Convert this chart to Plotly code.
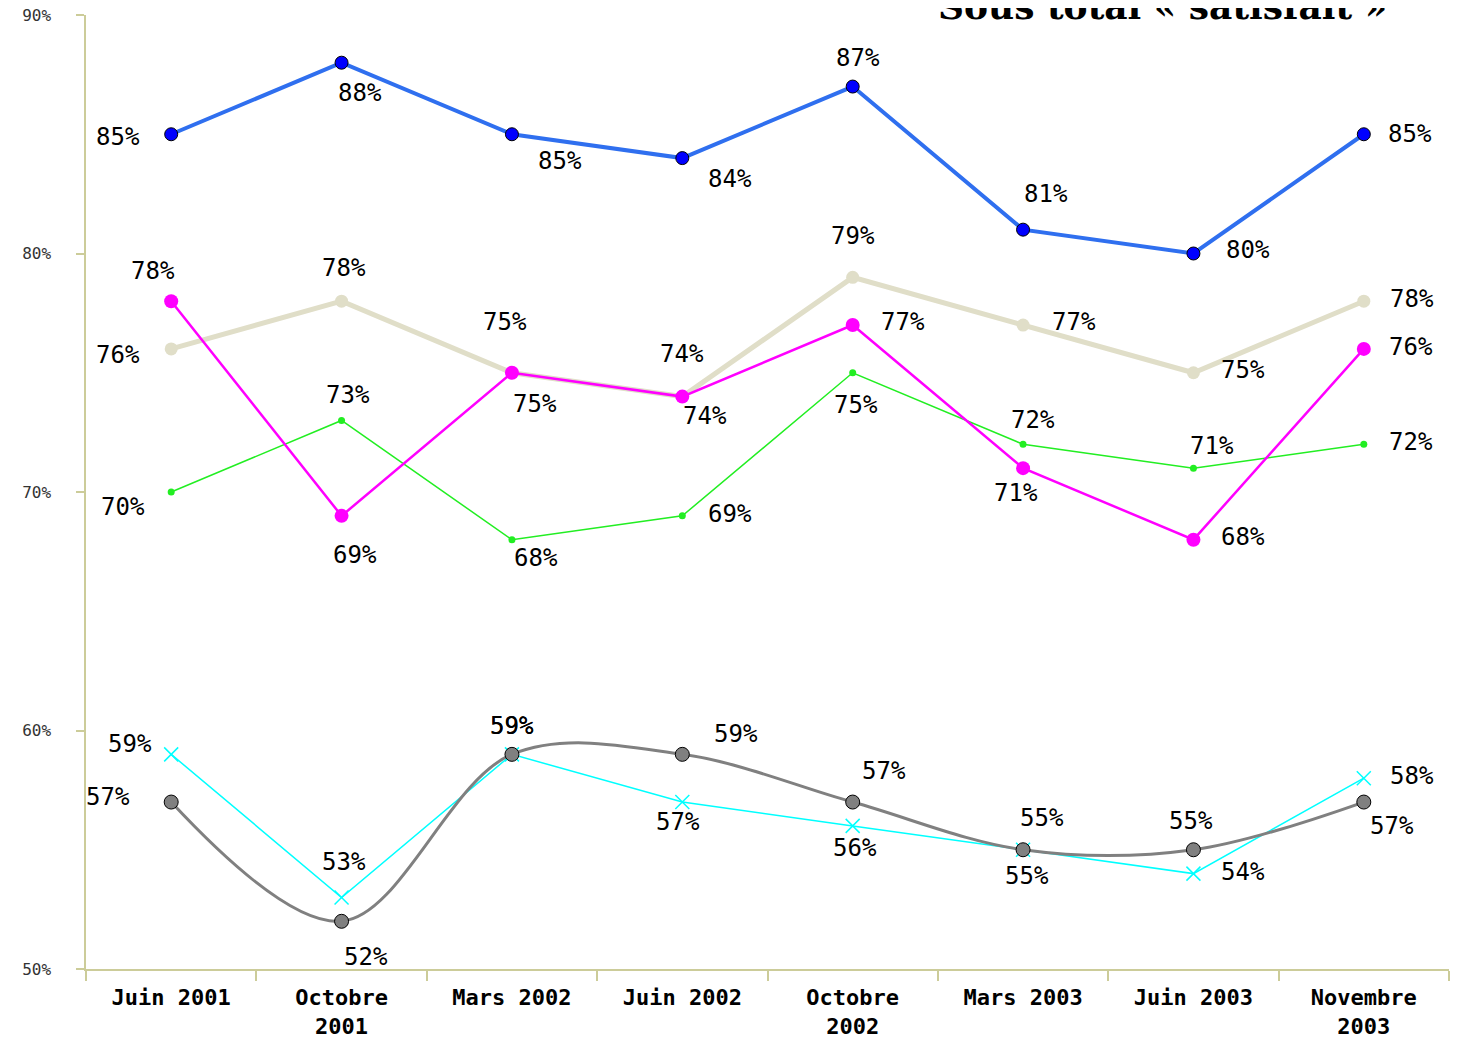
import plotly.graph_objects as go

categories = ["Juin 2001", "Octobre<br>2001", "Mars 2002", "Juin 2002",
              "Octobre<br>2002", "Mars 2003", "Juin 2003", "Novembre<br>2003"]

blue_vals = [85, 88, 85, 84, 87, 81, 80, 85]
beige_vals = [76, 78, 75, 74, 79, 77, 75, 78]
magenta_vals = [78, 69, 75, 74, 77, 71, 68, 76]
green_vals = [70, 73, 68, 69, 75, 72, 71, 72]
cyan_vals = [59, 53, 59, 57, 56, 55, 54, 58]
gray_vals = [57, 52, 59, 59, 57, 55, 55, 57]

y_ticks = [50, 60, 70, 80, 90]
title_text = "Sous total « satisfait »"

# label offsets (pixels, dx right, dy down) - styling only
blue_off = [(-53, 3), (18, 30), (48, 27), (48, 21), (5, -29), (23, -36), (55, -4), (46, 0)]
beige_off = [(-53, 6), (2, -33), (-7, -51), (0, -43), (0, -41), (51, -3), (50, -3), (48, -2)]
magenta_off = [(-18, -30), (13, 39), (23, 31), (23, 19), (50, -3), (-7, 25), (50, -3), (47, -2)]
green_off = [(-48, 15), (6, -25), (24, 18), (48, -2), (3, 32), (10, -24), (19, -22), (47, -2)]
cyan_off = [(-41, -10), (2, -35), (0, -28), (-4, 20), (2, 22), (4, 26), (50, -2), (48, -2)]
gray_off = [(-63, -5), (24, 36), (0, -28), (54, -20), (31, -31), (19, -32), (-2, -29), (28, 24)]

fig = go.Figure()

fig.add_trace(go.Scatter(x=categories, y=beige_vals, mode="lines+markers",
                         line=dict(color="#E0DEC8", width=5),
                         marker=dict(color="#E0DEC8", size=13)))
fig.add_trace(go.Scatter(x=categories, y=green_vals, mode="lines+markers",
                         line=dict(color="#22EE22", width=1.5),
                         marker=dict(color="#22EE22", size=7)))
fig.add_trace(go.Scatter(x=categories, y=magenta_vals, mode="lines+markers",
                         line=dict(color="#FF00FF", width=2.5),
                         marker=dict(color="#FF00FF", size=14)))
fig.add_trace(go.Scatter(x=categories, y=blue_vals, mode="lines+markers",
                         line=dict(color="#2F6FEF", width=4),
                         marker=dict(color="#0000FF", size=13, line=dict(color="black", width=1))))
fig.add_trace(go.Scatter(x=categories, y=cyan_vals, mode="lines+markers",
                         line=dict(color="#00FFFF", width=1.5),
                         marker=dict(color="#00FFFF", size=14, symbol="x-thin-open",
                                     line=dict(color="#00FFFF", width=1.5))))
fig.add_trace(go.Scatter(x=categories, y=gray_vals, mode="lines+markers",
                         line=dict(color="#808080", width=3, shape="spline", smoothing=1.0),
                         marker=dict(color="#808080", size=14, line=dict(color="black", width=1))))

label_font = dict(family="DejaVu Sans Mono", size=24, color="black")
for vals, offs in [(blue_vals, blue_off), (beige_vals, beige_off), (magenta_vals, magenta_off),
                   (green_vals, green_off), (cyan_vals, cyan_off), (gray_vals, gray_off)]:
    for c, v, (dx, dy) in zip(categories, vals, offs):
        fig.add_annotation(x=c, y=v, text=f"{v}%", showarrow=False,
                           xshift=dx, yshift=-dy, font=label_font,
                           xanchor="center", yanchor="middle")

fig.add_annotation(xref="paper", yref="paper", x=0.79, y=940 / 954,
                   text=title_text, showarrow=False, xanchor="center", yanchor="bottom",
                   font=dict(family="DejaVu Serif", size=36, color="black", weight="bold"))

# page body has an 8px margin; margins compensate so the plot area lands at x 86-1449, y 15-969
fig.update_layout(
    width=1463, height=1040,
    margin=dict(l=78, r=22, t=7, b=79),
    plot_bgcolor="white", paper_bgcolor="white",
    showlegend=False,
    xaxis=dict(showgrid=False, zeroline=False, showline=True, linecolor="#CCCC99", linewidth=1.5,
               ticks="outside", tickson="boundaries", ticklen=10, tickcolor="#CCCC99",
               tickwidth=1.5, automargin=False, ticklabelstandoff=8,
               tickfont=dict(family="DejaVu Sans Mono", size=22, color="black", weight="bold"),
               range=[-0.5, 7.5]),
    yaxis=dict(showgrid=False, zeroline=False, showline=True, linecolor="#CCCC99", linewidth=1.5,
               ticks="outside", ticklen=8, tickcolor="#CCCC99", tickwidth=1.5, automargin=False,
               tickvals=y_ticks, ticktext=[f"{t}%" for t in y_ticks],
               tickfont=dict(family="DejaVu Sans Mono", size=16, color="#333333"),
               ticklabelstandoff=22, ticklabeloverflow="allow",
               range=[50, 90]),
)

fig.write_html("out.html")
